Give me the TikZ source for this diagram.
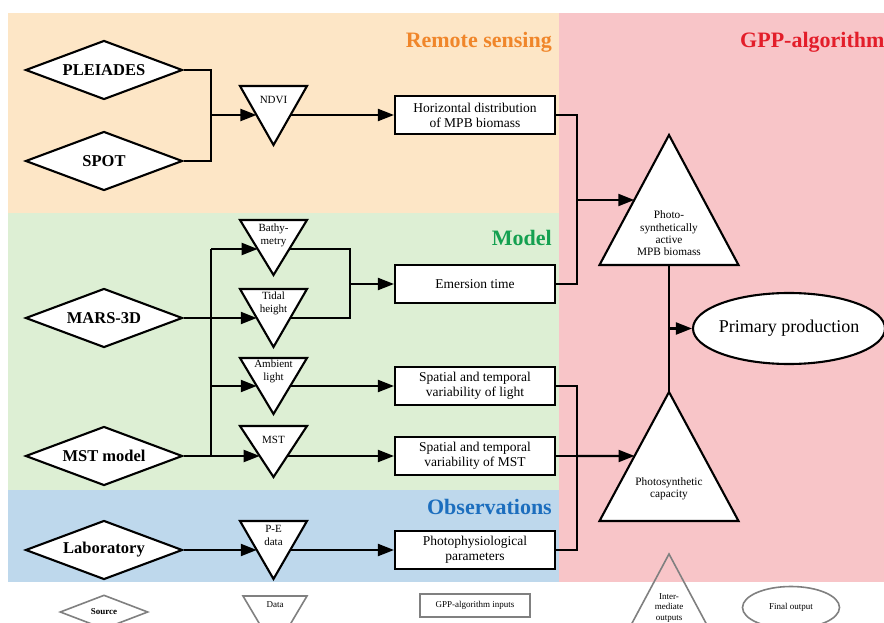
\documentclass[tikz,border=0pt]{standalone}
\usepackage{fontspec}
\setmainfont{Liberation Serif}
\usetikzlibrary{shapes.geometric,arrows.meta,calc}
\definecolor{rsbg}{RGB}{253,230,198}
\definecolor{mdbg}{RGB}{221,239,212}
\definecolor{obbg}{RGB}{190,216,236}
\definecolor{gpbg}{RGB}{248,197,200}
\definecolor{rstx}{RGB}{240,134,42}
\definecolor{gptx}{RGB}{227,30,42}
\definecolor{mdtx}{RGB}{20,160,80}
\definecolor{obtx}{RGB}{28,110,190}
\definecolor{lgd}{RGB}{128,128,128}
\newcommand\InvTri[5]{% name, cx, top, apex, arrow y
  \coordinate (#1-tl) at ({#2-33.5},#3);
  \coordinate (#1-tr) at ({#2+33.5},#3);
  \coordinate (#1-ap) at (#2,#4);
  \draw[shp] (#1-tl) -- (#1-tr) -- (#1-ap) -- cycle;
  \coordinate (#1-l) at ({#2-33.5*(#4-#5)/(#4-#3)},#5);
  \coordinate (#1-r) at ({#2+33.5*(#4-#5)/(#4-#3)},#5);}
\begin{document}
\begin{tikzpicture}[x=1pt,y=-1pt,
  shp/.style={draw=black,line width=2.1pt,fill=white,line join=miter},
  ln/.style={draw=black,line width=2.1pt,line join=miter},
  arr/.style={ln,-{Triangle[length=16pt,width=12pt]}},
  src/.style={shp,diamond,aspect=2.66,minimum width=157pt,minimum height=59pt,inner sep=0pt,font=\fontsize{16.5}{18}\selectfont\bfseries},
  inbox/.style={shp,rectangle,minimum width=160pt,minimum height=38pt,inner sep=0pt,align=center,font=\fontsize{13.5}{15}\selectfont},
  trilab/.style={align=center,inner sep=0pt,font=\fontsize{11}{13}\selectfont},
  biglab/.style={align=center,inner sep=0pt,font=\fontsize{11.3}{12.3}\selectfont},
  sect/.style={inner sep=0pt,font=\fontsize{22}{26}\selectfont\bfseries},
  lg/.style={draw=lgd,line width=1.6pt},
  lgtx/.style={inner sep=0pt,align=center,font=\fontsize{9}{10.5}\selectfont}]
\useasboundingbox (0,0) rectangle (884,623);
\fill[white] (0,0) rectangle (884,623);
% backgrounds
\fill[rsbg] (8,13) rectangle (559,213);
\fill[mdbg] (8,213) rectangle (559,490);
\fill[obbg] (8,490) rectangle (559,582);
\fill[gpbg] (559,13) rectangle (884,582);
% section titles
\node[sect,text=rstx,anchor=east] (trs) at (552,42) {Remote sensing};
\node[sect,text=gptx,anchor=west] (tgp) at (740,42) {GPP-algorithm};
\node[sect,text=mdtx,anchor=east] (tmd) at (552,238) {Model};
\node[sect,text=obtx,anchor=east] (tob) at (552,507) {Observations};
% sources
\node[src] (pleiades) at (104,70) {PLEIADES};
\node[src] (spot) at (104,161) {SPOT};
\node[src] (mars) at (104,318) {MARS-3D};
\node[src] (mstm) at (104,456) {MST model};
\node[src] (lab) at (104,550) {Laboratory};
% data triangles
\InvTri{ndvi}{273.5}{86}{145}{115}
\node[trilab] (ndvit) at (273.5,100) {NDVI};
\InvTri{bath}{273.5}{220}{275}{249}
\node[trilab] (batht) at (273.5,235) {Bathy-\\metry};
\InvTri{tid}{273.5}{289}{347}{318}
\node[trilab] (tidt) at (273.5,303.5) {Tidal\\height};
\InvTri{amb}{273.5}{358}{414}{386}
\node[trilab] (ambt) at (273.5,371) {Ambient\\light};
\InvTri{mst}{273.5}{426}{477}{456}
\node[trilab] (mstt) at (273.5,440) {MST};
\InvTri{pe}{273.5}{521}{579}{550}
\node[trilab] (pet) at (273.5,535.5) {P-E\\data};
% GPP inputs
\node[inbox] (hd) at (475,115) {Horizontal distribution\\of MPB biomass};
\node[inbox] (et) at (475,284) {Emersion time};
\node[inbox] (sl) at (475,386) {Spatial and temporal\\variability of light};
\node[inbox] (sm) at (475,456) {Spatial and temporal\\variability of MST};
\node[inbox] (php) at (475,550) {Photophysiological\\parameters};
% intermediate triangles
\coordinate (t1-a) at (669,135);
\coordinate (t1-bl) at (599.5,265);
\coordinate (t1-br) at (738.5,265);
\coordinate (t1-b) at (669,265);
\draw[shp] (t1-a) -- (t1-br) -- (t1-bl) -- cycle;
\node[biglab] (t1t) at (669,233.5) {Photo-\\synthetically\\active\\MPB biomass};
\coordinate (t2-a) at (669,392);
\coordinate (t2-bl) at (599.5,521);
\coordinate (t2-br) at (738.5,521);
\draw[shp] (t2-a) -- (t2-br) -- (t2-bl) -- cycle;
\node[biglab] (t2t) at (669,488.5) {Photosynthetic\\capacity};
\coordinate (t1-l) at ($(t1-a)!0.5!(t1-bl)$);
\coordinate (t2-l) at ($(t2-a)!0.496!(t2-bl)$);
% final output
\node[shp,ellipse,minimum width=192pt,minimum height=71pt,inner sep=0pt] (prim) at (789,328.5) {};
\node[inner sep=0pt,font=\fontsize{18}{20}\selectfont] (primt) at (prim) {Primary production};
% connectors: remote sensing
\coordinate (j1) at (211,115);
\draw[ln] (pleiades.east) -| (j1) |- (spot.east);
\draw[arr] (j1) -- (ndvi-l);
\draw[arr] (ndvi-r) -- (hd.west);
\coordinate (j2) at (577,200);
\draw[ln] (hd.east) -| (j2) |- (et.east);
\draw[arr] (j2) -- (t1-l);
% model
\coordinate (v1) at (211,249);
\coordinate (v2) at (211,386);
\coordinate (v3) at (211,456);
\draw[ln] (v1) -- (v3);
\draw[arr] (v1) -- (bath-l);
\draw[arr] (v2) -- (amb-l);
\draw[arr] (mstm.east) -- (mst-l);
\draw[arr] (mars.east) -- (tid-l);
\coordinate (j3) at (350,284);
\draw[ln] (bath-r) -| (j3) |- (tid-r);
\draw[arr] (j3) -- (et.west);
\draw[arr] (amb-r) -- (sl.west);
\draw[arr] (mst-r) -- (sm.west);
% observations
\draw[arr] (lab.east) -- (pe-l);
\draw[arr] (pe-r) -- (php.west);
\coordinate (j4) at (577,456);
\draw[ln] (sl.east) -| (j4) |- (php.east);
\draw[ln] (sm.east) -- (j4);
\draw[arr] (j4) -- (t2-l);
% GPP
\draw[ln] (t1-b) -- (t2-a);
\coordinate (j5) at (669,328.5);
\draw[arr] (j5) -- (prim.west);
% legend
\node[lg,diamond,aspect=2.6,minimum width=88pt,minimum height=34pt,inner sep=0pt] (lsrc) at (104,612) {};
\node[lgtx,font=\fontsize{9}{10}\selectfont\bfseries] (lsrct) at (lsrc) {Source};
\coordinate (ld-tl) at (243,596);
\coordinate (ld-tr) at (307,596);
\coordinate (ld-ap) at (275,650);
\draw[lg] (ld-tl) -- (ld-tr) -- (ld-ap) -- cycle;
\node[lgtx] (ldt) at (275,605) {Data};
\node[lg,rectangle,minimum width=110pt,minimum height=23pt,inner sep=0pt,lgtx] (lbox) at (475,605.5) {GPP-algorithm inputs};
\coordinate (li-a) at (669,554);
\coordinate (li-bl) at (599.5,684);
\coordinate (li-br) at (738.5,684);
\draw[lg] (li-a) -- (li-br) -- (li-bl) -- cycle;
\node[lgtx] (lit) at (669,608) {Inter-\\mediate\\outputs};
\node[lg,ellipse,minimum width=97pt,minimum height=42pt,inner sep=0pt] (lell) at (791,607.5) {};
\node[lgtx] (lellt) at (lell) {Final output};
\end{tikzpicture}
\end{document}
